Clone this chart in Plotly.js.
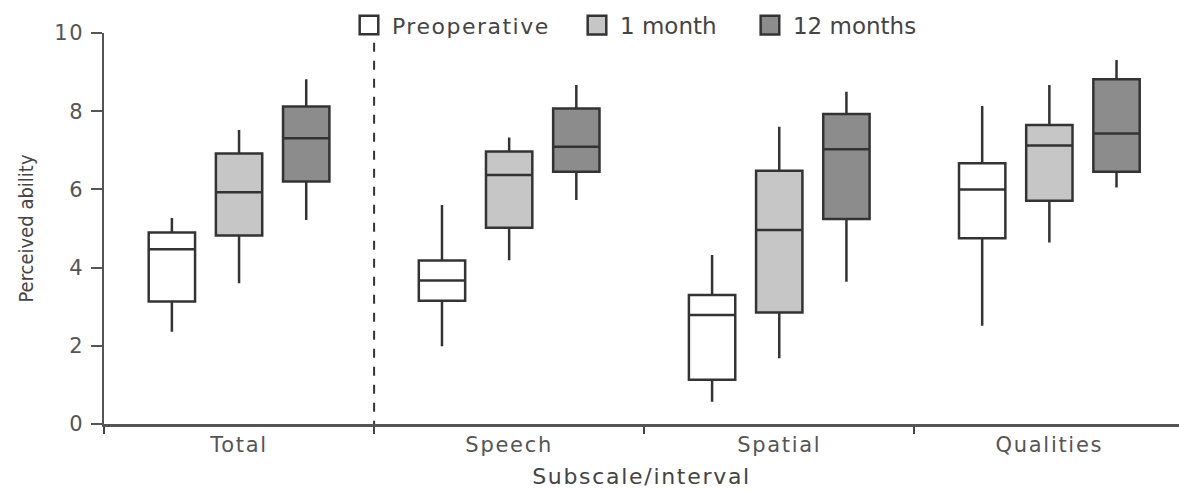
<!DOCTYPE html>
<html>
<head>
<meta charset="utf-8">
<script src="https://cdn.plot.ly/plotly-3.0.1.min.js"></script>
<style>
html,body{margin:0;padding:0;background:#fff;}
#chart{width:1179px;height:491px;}
.xtick text, .ytick text, .xtitle { letter-spacing: 1.7px; }
.legendtext { letter-spacing: 1.5px; }
.legend2 .legendtext, .legend3 .legendtext { letter-spacing: 3px; }
</style>
</head>
<body>
<div id="chart"></div>
<script>
const categories = ["Total", "Speech", "Spatial", "Qualities"];
const seriesNames = ["Preoperative", "1 month", "12 months"];

const preopLower  = [2.36, 1.99, 0.57, 2.51];
const preopQ1     = [3.13, 3.15, 1.13, 4.75];
const preopMedian = [4.47, 3.67, 2.79, 6.00];
const preopQ3     = [4.90, 4.18, 3.30, 6.67];
const preopUpper  = [5.27, 5.60, 4.32, 8.13];

const m1Lower  = [3.60, 4.19, 1.68, 4.64];
const m1Q1     = [4.82, 5.02, 2.85, 5.71];
const m1Median = [5.93, 6.37, 4.96, 7.12];
const m1Q3     = [6.92, 6.97, 6.48, 7.65];
const m1Upper  = [7.52, 7.33, 7.60, 8.67];

const m12Lower  = [5.22, 5.73, 3.64, 6.05];
const m12Q1     = [6.20, 6.45, 5.24, 6.45];
const m12Median = [7.31, 7.09, 7.03, 7.43];
const m12Q3     = [8.12, 8.07, 7.93, 8.82];
const m12Upper  = [8.82, 8.67, 8.50, 9.31];

const fills = ["#ffffff", "#c6c6c6", "#8c8c8c"];
const legendIds = ["legend", "legend2", "legend3"];

function boxTrace(name, lo, q1, med, q3, hi, fill, lg) {
  return {
    type: "box", name: name, x: categories,
    lowerfence: lo, q1: q1, median: med, q3: q3, upperfence: hi,
    fillcolor: fill,
    line: {color: "#333333", width: 2.5},
    whiskerwidth: 0,
    legend: lg,
    hoverinfo: "skip"
  };
}

const data = [
  boxTrace(seriesNames[0], preopLower, preopQ1, preopMedian, preopQ3, preopUpper, fills[0], legendIds[0]),
  boxTrace(seriesNames[1], m1Lower, m1Q1, m1Median, m1Q3, m1Upper, fills[1], legendIds[1]),
  boxTrace(seriesNames[2], m12Lower, m12Q1, m12Median, m12Q3, m12Upper, fills[2], legendIds[2])
];

const fontFam = "DejaVu Sans, Verdana, sans-serif";
function legendBox(xp, fs) {
  return {orientation: "h", x: xp, xanchor: "left", y: 1.02, yanchor: "middle",
          font: {family: fontFam, size: fs, color: "#444444"}, itemwidth: 36,
          bgcolor: "rgba(0,0,0,0)"};
}
const layout = {
  width: 1179, height: 491,
  margin: {l: 104, r: 0, t: 33, b: 67},
  paper_bgcolor: "#ffffff", plot_bgcolor: "#ffffff",
  boxmode: "group", boxgap: 0.254, boxgroupgap: 0.31,
  font: {family: fontFam, color: "#444444", size: 21},
  showlegend: true,
  legend: legendBox(0.2251, 22),
  legend2: legendBox(0.4372, 23),
  legend3: legendBox(0.5981, 23),
  xaxis: {
    type: "category", range: [-0.5, 3.48], automargin: false,
    showline: true, linecolor: "#555555", linewidth: 3,
    ticks: "outside", tickson: "boundaries", ticklen: 7, tickwidth: 2, tickcolor: "#444444",
    showgrid: false, zeroline: false,
    tickfont: {family: fontFam, size: 21, color: "#555555"},
    title: {text: "Subscale/interval", font: {family: fontFam, size: 22, color: "#444444"}, standoff: 13}
  },
  yaxis: {
    range: [0, 10], tickvals: [0, 2, 4, 6, 8, 10], automargin: false,
    showline: true, linecolor: "#555555", linewidth: 2.5,
    ticks: "outside", ticklen: 11, tickwidth: 2, tickcolor: "#555555",
    ticklabelstandoff: 2,
    showgrid: false, zeroline: false,
    tickfont: {family: fontFam, size: 21, color: "#555555"},
    title: {text: "Perceived ability", font: {family: "DejaVu Sans Condensed, Liberation Sans Narrow, Arial Narrow, sans-serif", size: 20, color: "#444444"}, standoff: 15}
  },
  shapes: [{
    type: "line", xref: "x", yref: "y", x0: 0.5, x1: 0.5, y0: -0.15, y1: 9.75,
    line: {color: "#333333", width: 2, dash: "dash"}
  }]
};

Plotly.newPlot("chart", data, layout, {displayModeBar: false, staticPlot: true}).then(function (gd) {
  // enlarge the legend swatches to match the reference's bigger squares
  gd.querySelectorAll(".legendpoints path").forEach(function (p) {
    const t = p.getAttribute("transform") || "";
    p.setAttribute("transform", t + " scale(1.55)");
    p.setAttribute("vector-effect", "non-scaling-stroke");
  });
});
</script>
</body>
</html>
